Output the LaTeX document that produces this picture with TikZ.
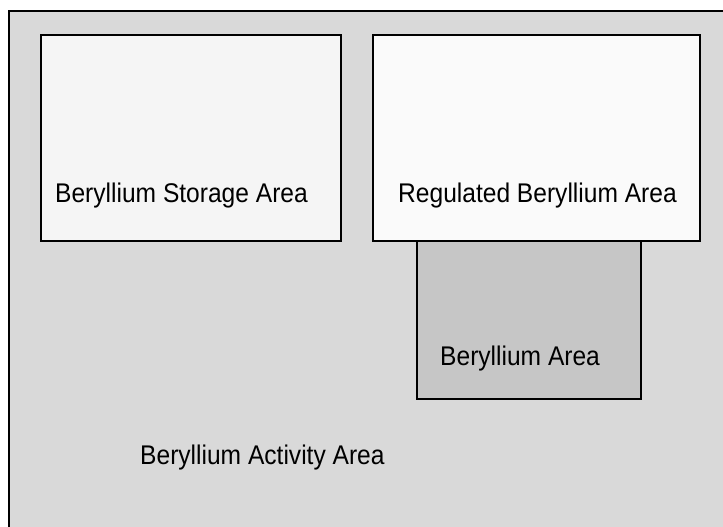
\documentclass[tikz,border=0pt]{standalone}
\usepackage{fontspec}
\setmainfont[FakeStretch=0.91]{Liberation Sans}
\usetikzlibrary{positioning}
\definecolor{activityfill}{HTML}{D9D9D9}
\definecolor{storagefill}{HTML}{F5F5F5}
\definecolor{regulatedfill}{HTML}{FAFAFA}
\definecolor{berylfill}{HTML}{C6C6C6}
\newcommand{\areabox}[6]{%
  \node[draw=black, line width=2pt, fill=#6, inner sep=0pt,
        minimum width=#4pt, minimum height=#5pt,
        anchor=north west] (#1) at (#2,#3) {};}

\begin{document}
\begin{tikzpicture}[x=1pt, y=-1pt, font=\fontsize{27}{32}\selectfont]
      \useasboundingbox (0,0) rectangle (723,527);
      \clip (0,0) rectangle (723,527);
      \areabox{activity}{8}{10}{740}{540}{activityfill}
      \areabox{storage}{40}{34}{300}{206}{storagefill}
      \areabox{beryl}{416}{240}{224}{158}{berylfill}
      \areabox{regulated}{372}{34}{327}{206}{regulatedfill}
      \node[anchor=base west, inner sep=0pt] (storagelbl) at (55,202) {Beryllium Storage Area};
      \node[anchor=base west, inner sep=0pt] (regulatedlbl) at (398,202) {Regulated Beryllium Area};
      \node[anchor=base west, inner sep=0pt] (beryllbl) at (440,365) {Beryllium Area};
      \node[anchor=base west, inner sep=0pt] (activitylbl) at (140,464) {Beryllium Activity Area};
    \end{tikzpicture}
\end{document}
